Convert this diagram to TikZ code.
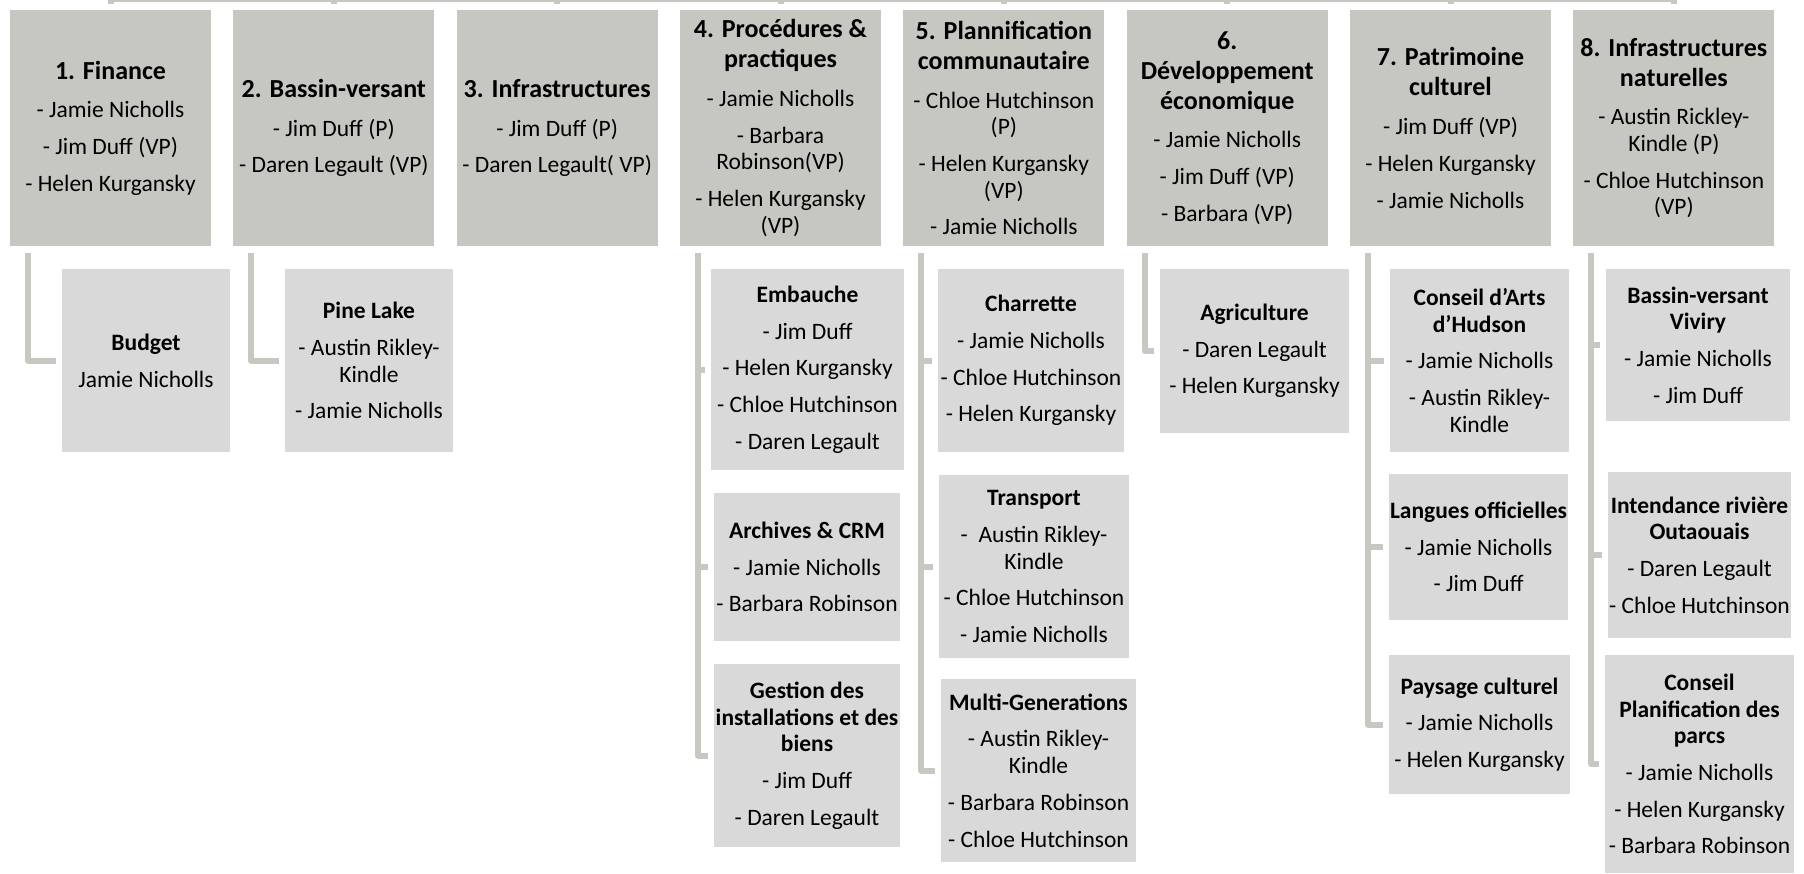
\documentclass[tikz,border=0pt]{standalone}
\usepackage{fontspec}
\setmainfont{Carlito}
\definecolor{topc}{RGB}{199,199,194}
\definecolor{subc}{RGB}{217,217,217}
\definecolor{linec}{RGB}{200,200,195}
\newcommand{\ctext}[1]{\makebox[0pt]{\parbox{240pt}{\centering #1}}}
\newcommand{\ttl}[1]{{\fontsize{26}{30}\selectfont\bfseries #1\par}\vspace{12pt}}
\newcommand{\ctl}[1]{{\bfseries #1\par}\vspace{10pt}}
\newcommand{\pg}{\par\vspace{10pt}}
\begin{document}
\begin{tikzpicture}[x=1pt,y=-1pt,
  boxbase/.style={rectangle, inner sep=0pt, outer sep=0pt, draw=none, font=\fontsize{23.5}{26.7}\selectfont},
  topbox/.style={boxbase, fill=topc, minimum width=201pt, minimum height=236pt},
  subbox/.style={boxbase, fill=subc},
  conn/.style={draw=linec, line width=6pt, line join=round}]
\useasboundingbox (0,0) rectangle (1804,873);
% top-level boxes
\node[topbox] (b1) at (110.5,128) {\ctext{\ttl{1. Finance}- Jamie Nicholls\pg - Jim Duff (VP)\pg - Helen Kurgansky}};
\node[topbox] (b2) at (333.83,128) {\ctext{\ttl{2. Bassin-versant}- Jim Duff (P)\pg - Daren Legault (VP)}};
\node[topbox] (b3) at (557.17,128) {\ctext{\ttl{3. Infrastructures}- Jim Duff (P)\pg - Daren Legault( VP)}};
\node[topbox] (b4) at (780.5,128) {\ctext{\ttl{4. Procédures \&\\practiques}- Jamie Nicholls\pg - Barbara\\Robinson(VP)\pg - Helen Kurgansky\\(VP)}};
\node[topbox] (b5) at (1003.83,128) {\ctext{\ttl{5. Plannification\\communautaire}- Chloe Hutchinson\\(P)\pg - Helen Kurgansky\\(VP)\pg - Jamie Nicholls}};
\node[topbox] (b6) at (1227.17,128) {\ctext{\ttl{6.\\Développement\\économique}- Jamie Nicholls\pg - Jim Duff (VP)\pg - Barbara (VP)}};
\node[topbox] (b7) at (1450.5,128) {\ctext{\ttl{7. Patrimoine\\culturel}- Jim Duff (VP)\pg - Helen Kurgansky\pg - Jamie Nicholls}};
\node[topbox] (b8) at (1673.83,128) {\ctext{\ttl{8. Infrastructures\\naturelles}- Austin Rickley-\\Kindle (P)\pg - Chloe Hutchinson\\(VP)}};
% sub boxes
\node[subbox, minimum width=168pt, minimum height=183pt] (c1) at (146,360.5) {\ctext{\ctl{Budget}Jamie Nicholls}};
\node[subbox, minimum width=168pt, minimum height=183pt] (c2) at (369,360.5) {\ctext{\ctl{Pine Lake}- Austin Rikley-\\Kindle\pg - Jamie Nicholls}};
\node[subbox, minimum width=193pt, minimum height=201pt] (c4a) at (807.5,369.5) {\ctext{\ctl{Embauche}- Jim Duff\pg - Helen Kurgansky\pg - Chloe Hutchinson\pg - Daren Legault}};
\node[subbox, minimum width=186pt, minimum height=148pt] (c4b) at (807,567) {\ctext{\ctl{Archives \& CRM}- Jamie Nicholls\pg - Barbara Robinson}};
\node[subbox, minimum width=186pt, minimum height=183pt] (c4c) at (807,755.5) {\ctext{\ctl{Gestion des\\installations et des\\biens}- Jim Duff\pg - Daren Legault}};
\node[subbox, minimum width=186pt, minimum height=183pt] (c5a) at (1031,360.5) {\ctext{\ctl{Charrette}- Jamie Nicholls\pg - Chloe Hutchinson\pg - Helen Kurgansky}};
\node[subbox, minimum width=190pt, minimum height=183pt] (c5b) at (1034,566.5) {\ctext{\ctl{Transport}-\ \ Austin Rikley-\\Kindle\pg - Chloe Hutchinson\pg - Jamie Nicholls}};
\node[subbox, minimum width=195pt, minimum height=183pt] (c5c) at (1038.5,770.5) {\ctext{\ctl{Multi-Generations}- Austin Rikley-\\Kindle\pg - Barbara Robinson\pg - Chloe Hutchinson}};
\node[subbox, minimum width=189pt, minimum height=164pt] (c6) at (1254.5,351) {\ctext{\ctl{Agriculture}- Daren Legault\pg - Helen Kurgansky}};
\node[subbox, minimum width=179pt, minimum height=183pt] (c7a) at (1479.5,360.5) {\ctext{\ctl{Conseil d’Arts\\d’Hudson}- Jamie Nicholls\pg - Austin Rikley-\\Kindle}};
\node[subbox, minimum width=179pt, minimum height=146pt] (c7b) at (1478.5,547) {\ctext{\ctl{Langues officielles}- Jamie Nicholls\pg - Jim Duff}};
\node[subbox, minimum width=181pt, minimum height=139pt] (c7c) at (1479.5,724.5) {\ctext{\ctl{Paysage culturel}- Jamie Nicholls\pg - Helen Kurgansky}};
\node[subbox, minimum width=184pt, minimum height=152pt] (c8a) at (1698,345) {\ctext{\ctl{Bassin-versant\\Viviry}- Jamie Nicholls\pg - Jim Duff}};
\node[subbox, minimum width=183pt, minimum height=166pt] (c8b) at (1699.5,555) {\ctext{\ctl{Intendance rivière\\Outaouais}- Daren Legault\pg - Chloe Hutchinson}};
\node[subbox, minimum width=189pt, minimum height=218pt] (c8c) at (1699.5,764) {\ctext{\ctl{Conseil\\Planification des\\parcs}- Jamie Nicholls\pg - Helen Kurgansky\pg - Barbara Robinson}};
% top connector
\draw[conn] ([yshift=11.3pt]b1.north) -- ([yshift=11.3pt]b8.north);
\foreach \i in {1,...,8} \draw[conn] ([yshift=6.5pt]b\i.north) -- ([yshift=11.3pt]b\i.north);
% child connectors
\draw[conn] ([xshift=18pt,yshift=-7pt]b1.south west) |- ([xshift=-6.5pt]c1.west);
\draw[conn] ([xshift=18pt,yshift=-7pt]b2.south west) |- ([xshift=-6.5pt]c2.west);
\foreach \c in {c4a,c4b,c4c} \draw[conn] ([xshift=18pt,yshift=-7pt]b4.south west) |- ([xshift=-6.5pt]\c.west);
\foreach \c in {c5a,c5b,c5c} \draw[conn] ([xshift=18pt,yshift=-7pt]b5.south west) |- ([xshift=-6.5pt]\c.west);
\draw[conn] ([xshift=18pt,yshift=-7pt]b6.south west) |- ([xshift=-6.5pt]c6.west);
\foreach \c in {c7a,c7b,c7c} \draw[conn] ([xshift=18pt,yshift=-7pt]b7.south west) |- ([xshift=-6.5pt]\c.west);
\foreach \c in {c8a,c8b,c8c} \draw[conn] ([xshift=18pt,yshift=-7pt]b8.south west) |- ([xshift=-6.5pt]\c.west);
\end{tikzpicture}
\end{document}
